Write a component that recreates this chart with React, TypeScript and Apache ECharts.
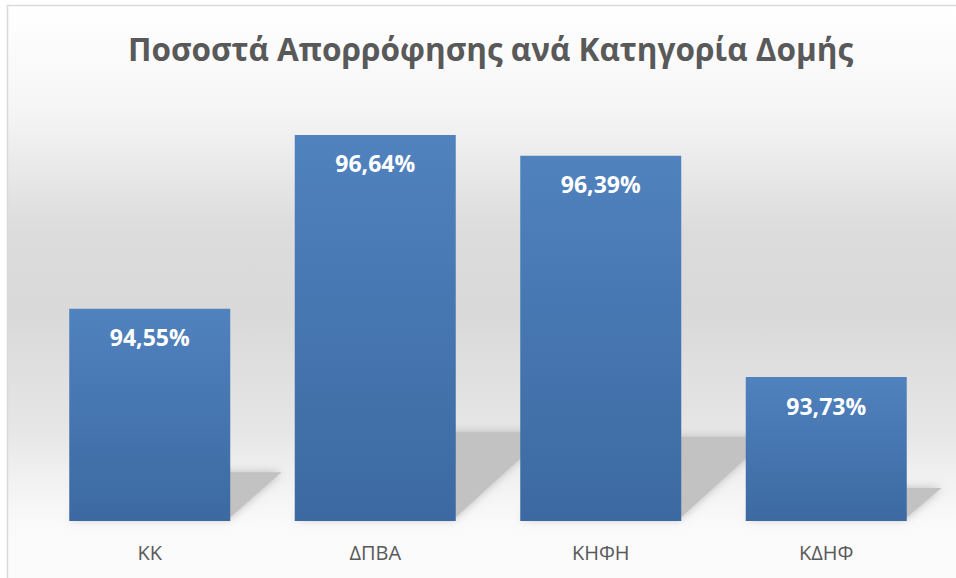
import React, { useEffect, useRef } from "react";
import * as echarts from "echarts";

const categories = ["ΚΚ", "ΔΠΒΑ", "ΚΗΦΗ", "ΚΔΗΦ"];
const values = [94.55, 96.64, 96.39, 93.73];
const titleText = "Ποσοστά Απορρόφησης ανά Κατηγορία Δομής";
const axisMin = 92;
const axisMax = 97;

export default function App() {
  const ref = useRef<HTMLDivElement>(null);
  useEffect(() => {
    if (!ref.current) return;
    const chart = echarts.init(ref.current, null, { renderer: "svg" });
    const font = "'Open Sans', 'Noto Sans', sans-serif";
    chart.setOption({
      animation: false,
      graphic: [
        {
          type: "rect",
          z: -10,
          silent: true,
          shape: { x: 7.5, y: 5.5, width: 960, height: 590 },
          style: {
            fill: new echarts.graphic.LinearGradient(0, 0, 0, 1, [
              { offset: 0, color: "#ffffff" },
              { offset: 0.17, color: "#f6f6f6" },
              { offset: 0.38, color: "#dcdcdc" },
              { offset: 0.52, color: "#d9d9d9" },
              { offset: 0.72, color: "#e6e6e6" },
              { offset: 0.8, color: "#f1f1f1" },
              { offset: 0.88, color: "#fafafa" },
              { offset: 1, color: "#fbfbfb" },
            ]),
            stroke: "#d9d9d9",
            lineWidth: 1.5,
          },
        },
      ],
      title: {
        text: titleText,
        left: 123,
        top: 27,
        textStyle: {
          fontFamily: font,
          fontWeight: "bold",
          fontSize: 31.5,
          color: "#595959",
        },
      },
      grid: { left: 37, right: 17, top: 105, bottom: 57 },
      xAxis: {
        type: "category",
        data: categories,
        axisLine: { show: false },
        axisTick: { show: false },
        axisLabel: {
          fontFamily: font,
          fontSize: 20,
          color: "#595959",
          margin: 21,
        },
      },
      yAxis: {
        type: "value",
        min: axisMin,
        max: axisMax,
        show: false,
        splitLine: { show: false },
      },
      series: [
        {
          type: "custom",
          z: 1,
          silent: true,
          data: values.map((v, i) => [i, v]),
          encode: { x: 0, y: 1 },
          renderItem: (params: any, api: any) => {
            const idx = api.value(0);
            const v = api.value(1);
            const top = api.coord([idx, v]);
            const base = api.coord([idx, axisMin]);
            const bw = api.size([1, 0])[0] * 0.714;
            const x0 = top[0] - bw / 2;
            const x1 = top[0] + bw / 2;
            const yb = base[1];
            const H = yb - top[1];
            const h = 0.23 * H;
            const dx = 1.05 * h;
            return {
              type: "polygon",
              shape: {
                points: [
                  [x0, yb - 2],
                  [x1 - 2, yb - 2],
                  [x1 + dx, yb - h],
                  [x0 + dx, yb - h],
                ],
              },
              style: {
                fill: "#c2c2c2",
                shadowBlur: 10,
                shadowColor: "rgba(180,180,180,0.9)",
              },
            };
          },
        },
        {
          type: "bar",
          z: 2,
          data: values,
          barCategoryGap: "28.6%",
          itemStyle: {
            color: new echarts.graphic.LinearGradient(0, 0, 0, 1, [
              { offset: 0, color: "#5082be" },
              { offset: 1, color: "#3c69a1" },
            ]),
          },
          label: {
            show: true,
            position: "insideTop",
            distance: 17,
            fontFamily: font,
            fontWeight: "bold",
            fontSize: 23,
            color: "#ffffff",
            formatter: (p: any) => p.value.toFixed(2).replace(".", ",") + "%",
          },
        },
      ],
    });
    return () => chart.dispose();
  }, []);
  return (
    <div
      ref={ref}
      style={{ position: "fixed", left: 0, top: 0, width: 956, height: 578, background: "#ffffff" }}
    />
  );
}
